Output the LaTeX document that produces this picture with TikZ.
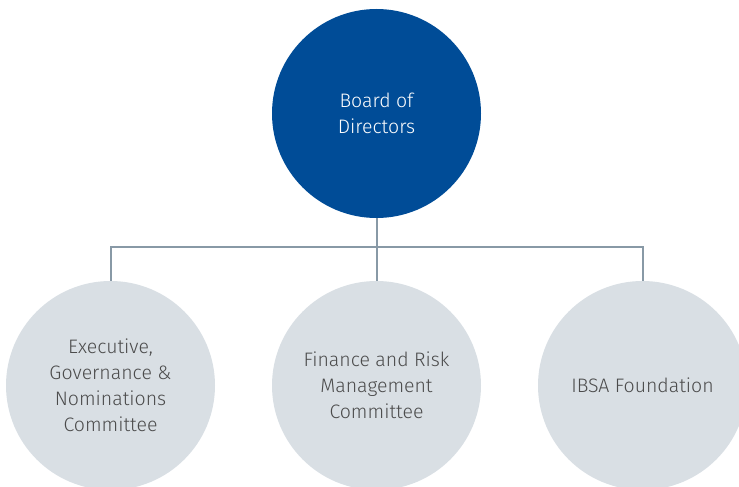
\documentclass[tikz,border=0pt]{standalone}
\usepackage{fontspec}
\setmainfont{Fira Sans}[UprightFont=* Light]
\usepackage{tikz}
\usetikzlibrary{positioning}
\usepackage{xcolor}
\definecolor{boardblue}{RGB}{0, 76, 151}
\definecolor{comgrey}{RGB}{217, 223, 228}
\definecolor{linegrey}{RGB}{136, 153, 166}
\definecolor{textgrey}{RGB}{75, 75, 75}

\begin{document}
\begin{tikzpicture}[x=1pt,y=1pt,node distance=266pt,on grid]
    % estilos de los circulos
    \tikzset{board/.style={circle,fill=boardblue,text=white,minimum size=209pt,inner sep=0pt,align=center,font=\fontsize{19.5}{26}\selectfont},
             committee/.style={circle,fill=comgrey,text=textgrey,minimum size=209pt,inner sep=0pt,align=center,font=\fontsize{19.5}{26}\selectfont},
             link/.style={draw=linegrey,line width=2pt}}
    \useasboundingbox (0,0) rectangle (739,-487);
    \begin{scope}
    \clip (0,0) rectangle (739,-487);
    \node[board] (dir) at (376.5,-113.5) {Board of\\Directors};
    \node[committee] (frm) [below=272pt of dir] {Finance and Risk\\Management\\Committee};
    \node[committee] (egn) [left=of frm] {Executive,\\Governance \&\\Nominations\\Committee};
    \node[committee] (ibsa) [right=of frm] {IBSA Foundation};
    \coordinate[below=28.5pt of dir.south] (bar);

    \path[link]
    (dir) -- (frm)
    (egn) |- (bar) -| (ibsa);
    \end{scope}
\end{tikzpicture}
\end{document}
